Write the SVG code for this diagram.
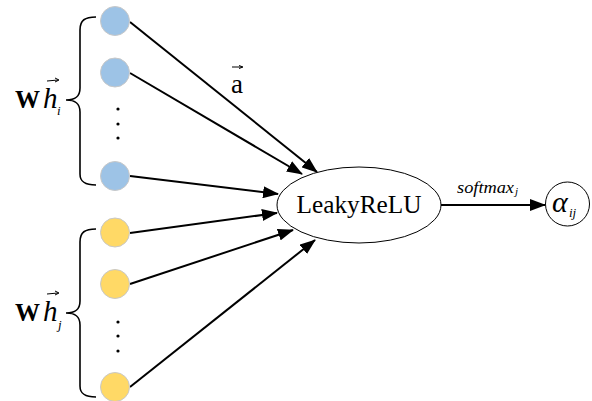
<svg xmlns="http://www.w3.org/2000/svg" width="592" height="401" viewBox="0 0 592 401">
<defs>
<style>
.blue{fill:#9DC3E6;stroke:#C8C8C8;stroke-width:1}
.yellow{fill:#FFD966;stroke:#C8C8C8;stroke-width:1}
.edge{stroke:#000;stroke-width:2;fill:none;marker-end:url(#ah)}
.brace{stroke:#000;stroke-width:1.6;fill:none}
.dot{fill:#000}
.vec{stroke:#000;stroke-width:1;fill:none}
</style>
<marker id="ah" markerUnits="userSpaceOnUse" markerWidth="16" markerHeight="12" refX="15" refY="6" orient="auto">
<path d="M0,0 L16,6 L0,12 z" fill="#000"/>
</marker>
</defs>
<g id="connectors">
<path class="edge" d="M130,22 L317,172"/>
<path class="edge" d="M130,73 L302,174"/>
<path class="edge" d="M130,176 L278,194"/>
<path class="edge" d="M130,233 L277,213"/>
<path class="edge" d="M130,284 L293,230"/>
<path class="edge" d="M130,387 L315,240"/>
<path class="edge" d="M441,205 L545,205"/>
</g>
<g id="hi-nodes">
<circle id="hi1" class="blue" cx="115" cy="21" r="14.5"/>
<circle id="hi2" class="blue" cx="115" cy="72.5" r="14.5"/>
<circle id="hi3" class="blue" cx="115" cy="176" r="14.5"/>
<circle class="dot" cx="118" cy="109" r="1.6"/>
<circle class="dot" cx="118" cy="124" r="1.6"/>
<circle class="dot" cx="118" cy="138" r="1.6"/>
</g>
<g id="hj-nodes">
<circle id="hj1" class="yellow" cx="115" cy="232.5" r="14.5"/>
<circle id="hj2" class="yellow" cx="115" cy="284" r="14.5"/>
<circle id="hj3" class="yellow" cx="115" cy="387" r="14.5"/>
<circle class="dot" cx="118" cy="322" r="1.6"/>
<circle class="dot" cx="118" cy="336" r="1.6"/>
<circle class="dot" cx="118" cy="351" r="1.6"/>
</g>
<g font-family="'Liberation Serif', Tinos, 'Times New Roman', serif" fill="#000">
<g id="brace-i">
<path class="brace" d="M96,17 C85,17 80,20 80,30 L80,88 C80,97 75,100 66,100 C75,100 80,103 80,112 L80,174 C80,182 85,185 96,185"/>
<text x="15" y="108" font-size="25" font-weight="bold" textLength="25" lengthAdjust="spacingAndGlyphs">W</text>
<text x="43" y="108" font-size="29" font-style="italic">h</text>
<text x="57" y="115" font-size="13" font-style="italic">i</text>
<path class="vec" d="M47,81 L58,80"/>
<path class="vec" d="M55,78 L59,80 L55,82"/>
</g>
<g id="brace-j">
<path class="brace" d="M96,229 C85,229 80,232 80,242 L80,301 C80,310 75,313 66,313 C75,313 80,316 80,325 L80,386 C80,394 85,397 96,397"/>
<text x="15" y="321" font-size="25" font-weight="bold" textLength="25" lengthAdjust="spacingAndGlyphs">W</text>
<text x="43" y="321" font-size="29" font-style="italic">h</text>
<text x="58" y="329" font-size="13" font-style="italic">j</text>
<path class="vec" d="M47,294 L58,293"/>
<path class="vec" d="M55,291 L59,293 L55,295"/>
</g>
<g id="a-label">
<text x="231" y="93" font-size="27">a</text>
<path class="vec" d="M232,67 L242,67"/>
<path class="vec" d="M239,65.5 L243,67 L239,68.5"/>
</g>
<g id="leakyrelu">
<ellipse cx="359" cy="205" rx="82" ry="38" fill="#fff" stroke="#000" stroke-width="1"/>
<text x="359" y="213" font-size="25" text-anchor="middle" textLength="125" lengthAdjust="spacingAndGlyphs">LeakyReLU</text>
</g>
<g id="softmax-label">
<text x="457" y="193" font-size="17" font-style="italic" textLength="57" lengthAdjust="spacingAndGlyphs">softmax</text>
<text x="515" y="195" font-size="11" font-style="italic">j</text>
</g>
<g id="alpha">
<circle cx="567.5" cy="204" r="22" fill="#fff" stroke="#000" stroke-width="1"/>
<text x="552" y="212" font-size="30" font-style="italic">α</text>
<text x="569" y="217" font-size="13" font-style="italic">ij</text>
</g>
</g>
</svg>
